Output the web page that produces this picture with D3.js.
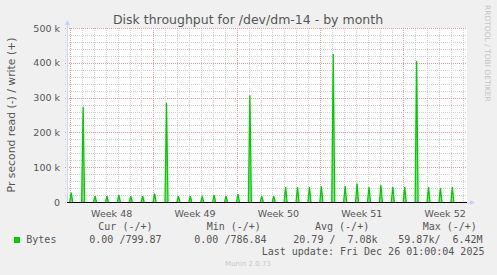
<!DOCTYPE html>
<html>
<head>
<meta charset="utf-8">
<script src="https://cdn.jsdelivr.net/npm/d3@7"></script>
<style>
  body { margin: 0; background: #f0f0f0; }
  svg { display: block; font-family: "DejaVu Sans", sans-serif; }
  .mono { font-family: "DejaVu Sans Mono", monospace; white-space: pre; }
</style>
</head>
<body>
<div class="svg-container"></div>
<script>
// data
var firstDay = "2025-11-24";
var writeBytes = [27000, 274000, 17000, 17000, 20000, 17000, 17000,
                  24000, 285000, 17000, 17000, 15000, 20000, 17000,
                  23000, 307000, 17000, 17000, 43000, 43000, 43000,
                  45000, 425000, 46000, 53000, 43000, 49000, 43000,
                  43000, 405000, 43000, 40000, 43000];
var weekStarts = ["2025-11-24", "2025-12-01", "2025-12-08", "2025-12-15", "2025-12-22"];
var weekLabels = ["Week 48", "Week 49", "Week 50", "Week 51", "Week 52"];
var yTicks = [0, 100000, 200000, 300000, 400000, 500000];
var yTickLabels = ["0", "100 k", "200 k", "300 k", "400 k", "500 k"];
var legendHeaders = ["Cur (-/+)", "Min (-/+)", "Avg (-/+)", "Max (-/+)"];
var legendValues = ["0.00 /799.87", "0.00 /786.84", "20.79 /  7.08k", "59.87k/  6.42M"];

var width = 497, height = 275;
var plotLeft = 67, plotRight = 467, plotTop = 28, plotBottom = 202;

var svg = d3.select(".svg-container").append("svg")
    .attr("width", width)
    .attr("height", height);

var parse = d3.utcParse("%Y-%m-%d");
var day0 = parse(firstDay);

var x = d3.scaleUtc()
    .domain([d3.utcHour.offset(day0, -6), d3.utcHour.offset(day0, 33 * 24 + 8)])
    .range([plotLeft, plotRight]);

var y = d3.scaleLinear()
    .domain([0, 500000])
    .range([plotBottom, plotTop]);

// canvas
svg.append("rect")
    .attr("x", plotLeft).attr("y", plotTop)
    .attr("width", plotRight - plotLeft).attr("height", plotBottom - plotTop)
    .attr("fill", "#ffffff");

// grid
var days = d3.utcDay.range(day0, x.domain()[1]);
svg.append("g").selectAll("line")
    .data(days)
    .enter().append("line")
    .attr("x1", function(d) { return Math.round(x(d)) + 0.5; })
    .attr("x2", function(d) { return Math.round(x(d)) + 0.5; })
    .attr("y1", plotTop).attr("y2", plotBottom + 2)
    .attr("stroke", function(d) { return d.getUTCDay() == 1 ? "#e89a9a" : "#cfcfcf"; })
    .attr("stroke-dasharray", "1,1");

var minorY = d3.range(0, 500001, 20000);
svg.append("g").selectAll("line")
    .data(minorY)
    .enter().append("line")
    .attr("x1", plotLeft - 2).attr("x2", plotRight)
    .attr("y1", function(d) { return Math.round(y(d)) + 0.5; })
    .attr("y2", function(d) { return Math.round(y(d)) + 0.5; })
    .attr("stroke", function(d) { return d % 100000 == 0 ? "#e89a9a" : "#cfcfcf"; })
    .attr("stroke-dasharray", "1,1");

// axes
svg.append("line")
    .attr("x1", plotLeft + 0.5).attr("x2", plotLeft + 0.5)
    .attr("y1", plotBottom).attr("y2", plotTop - 5)
    .attr("stroke", "#cfd6f8");
svg.append("path")
    .attr("d", "M" + (plotLeft - 2) + "," + (plotTop - 3) + "L" + (plotLeft + 3) + "," + (plotTop - 3) + "L" + (plotLeft + 0.5) + "," + (plotTop - 8) + "Z")
    .attr("fill", "#c8d0f8");
svg.append("line")
    .attr("x1", plotRight).attr("x2", plotRight + 5)
    .attr("y1", plotBottom + 0.5).attr("y2", plotBottom + 0.5)
    .attr("stroke", "#cfd6f8");
svg.append("path")
    .attr("d", "M" + (plotRight + 3) + "," + (plotBottom - 2) + "L" + (plotRight + 3) + "," + (plotBottom + 3) + "L" + (plotRight + 8) + "," + (plotBottom + 0.5) + "Z")
    .attr("fill", "#c8d0f8");

// zero line
svg.append("line")
    .attr("x1", plotLeft).attr("x2", plotRight)
    .attr("y1", plotBottom + 0.5).attr("y2", plotBottom + 0.5)
    .attr("stroke", "#000000");

// write spikes
var line = d3.line()
    .x(function(d) { return x(d.t); })
    .y(function(d) { return y(d.v); });

var spikes = writeBytes.map(function(v, i) {
    var t = d3.utcMinute.offset(d3.utcDay.offset(day0, i), 150);
    return [{t: d3.utcHour.offset(t, -3), v: 0}, {t: t, v: v}, {t: d3.utcHour.offset(t, 3), v: 0}];
});

svg.append("g").selectAll("path")
    .data(spikes)
    .enter().append("path")
    .attr("d", line)
    .attr("fill", "#7fe67f")
    .attr("stroke", "#00cc00")
    .attr("stroke-width", 1.3);

// y tick labels
svg.append("g").selectAll("text")
    .data(yTicks)
    .enter().append("text")
    .attr("x", 60)
    .attr("y", function(d) { return y(d) + 3.5; })
    .attr("text-anchor", "end")
    .attr("font-size", "9.5px")
    .attr("fill", "#555")
    .text(function(d, i) { return yTickLabels[i]; });

// week labels
svg.append("g").selectAll("text")
    .data(weekStarts)
    .enter().append("text")
    .attr("x", function(d) { return x(d3.utcHour.offset(parse(d), 84)); })
    .attr("y", 216.5)
    .attr("text-anchor", "middle")
    .attr("font-size", "9.5px")
    .attr("fill", "#555")
    .text(function(d, i) { return weekLabels[i]; });

// title
svg.append("text")
    .attr("x", 248).attr("y", 24)
    .attr("text-anchor", "middle")
    .attr("font-size", "12.5px")
    .attr("fill", "#555")
    .text("Disk throughput for /dev/dm-14 - by month");

// y label
svg.append("text")
    .attr("transform", "translate(15,115) rotate(-90)")
    .attr("text-anchor", "middle")
    .attr("font-size", "10.8px")
    .attr("fill", "#555")
    .text("Pr second read (-) / write (+)");

// watermark
svg.append("text")
    .attr("transform", "translate(485,5) rotate(90)")
    .attr("font-size", "7.5px")
    .attr("fill", "#c4c4c4")
    .text("RRDTOOL / TOBI OETIKER");

// legend
var headerX = [98.3, 206.7, 315, 422.7];
var valueX = [89.3, 194.3, 293.3, 398.3];

svg.append("rect")
    .attr("x", 14).attr("y", 237)
    .attr("width", 6).attr("height", 6)
    .attr("fill", "#00cc00");

svg.append("text")
    .attr("class", "mono")
    .attr("x", 26.3).attr("y", 243)
    .attr("font-size", "10px")
    .attr("fill", "#555")
    .text("Bytes");

svg.append("g").selectAll("text")
    .data(legendHeaders)
    .enter().append("text")
    .attr("class", "mono")
    .attr("x", function(d, i) { return headerX[i]; })
    .attr("y", 230)
    .attr("font-size", "10px")
    .attr("fill", "#555")
    .text(function(d) { return d; });

svg.append("g").selectAll("text")
    .data(legendValues)
    .enter().append("text")
    .attr("class", "mono")
    .attr("x", function(d, i) { return valueX[i]; })
    .attr("y", 243)
    .attr("font-size", "10px")
    .attr("fill", "#555")
    .text(function(d) { return d; });

svg.append("text")
    .attr("class", "mono")
    .attr("x", 261.7).attr("y", 255)
    .attr("font-size", "10px")
    .attr("fill", "#555")
    .text("Last update: Fri Dec 26 01:00:04 2025");

svg.append("text")
    .attr("x", 248).attr("y", 266)
    .attr("text-anchor", "middle")
    .attr("font-size", "7px")
    .attr("fill", "#c8c8c8")
    .text("Munin 2.0.73");
</script>
</body>
</html>
